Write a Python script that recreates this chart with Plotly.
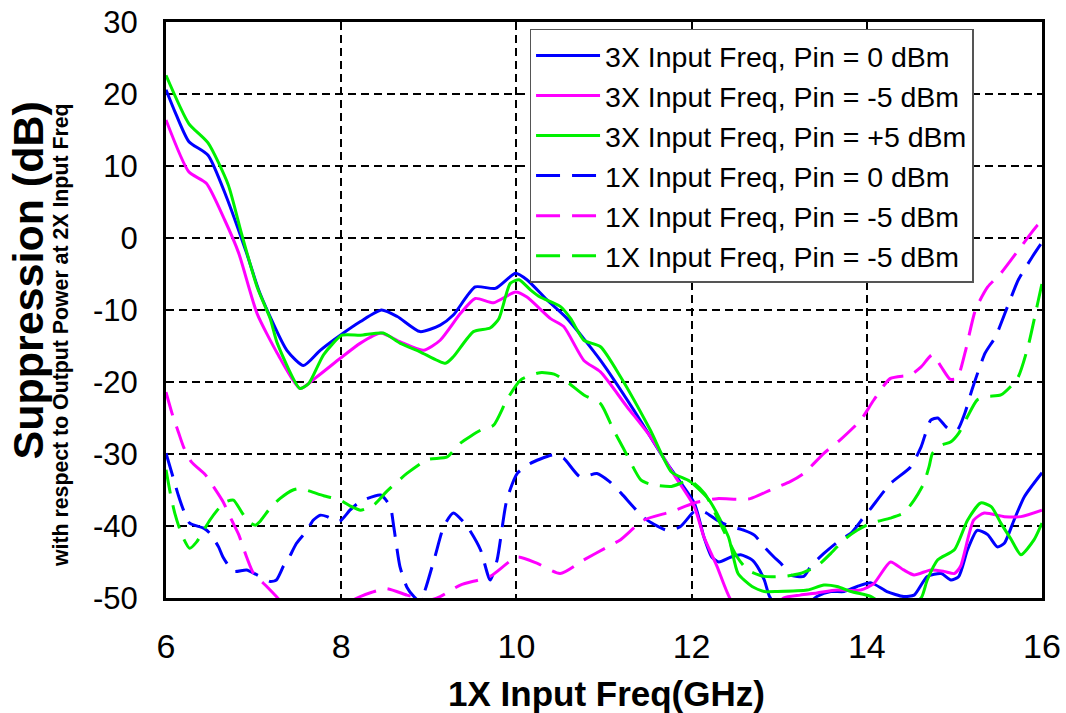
import plotly.graph_objects as go

# ---- data ----
b3_x = [6.0, 6.1, 6.26, 6.48, 6.69, 6.92, 7.07, 7.38, 7.57, 7.76, 7.99, 8.22, 8.46, 8.64, 8.9, 9.13, 9.28, 9.53, 9.76, 9.99, 10.12, 10.35, 10.58, 10.96, 11.34, 11.72, 12.03, 12.14, 12.23, 12.31, 12.45, 12.56, 12.69, 12.75, 12.83, 12.89, 13.0, 13.2, 13.43, 13.59, 13.74, 13.89, 14.05, 14.23, 14.42, 14.54, 14.69, 14.85, 14.96, 15.05, 15.15, 15.26, 15.38, 15.49, 15.57, 15.68, 15.8, 16.0]
b3_y = [20.6, 17.6, 13.4, 11.5, 5.7, -2.1, -7.6, -15.6, -17.7, -15.6, -13.5, -11.6, -10.0, -10.9, -13.0, -12.1, -10.7, -6.8, -7.0, -4.9, -5.8, -8.6, -11.2, -17.0, -23.9, -31.3, -36.8, -41.5, -44.3, -45.0, -44.3, -44.0, -44.7, -45.6, -47.5, -49.8, -51.5, -52.0, -49.8, -49.1, -49.1, -48.4, -47.9, -49.1, -49.8, -49.6, -47.0, -46.6, -47.5, -47.0, -43.3, -40.6, -41.2, -42.9, -42.4, -39.2, -35.9, -32.6]

m3_x = [6.0, 6.26, 6.46, 6.67, 6.83, 7.04, 7.27, 7.53, 7.72, 7.99, 8.22, 8.45, 8.67, 8.94, 9.13, 9.36, 9.53, 9.74, 9.99, 10.12, 10.39, 10.54, 10.77, 10.96, 11.26, 11.53, 11.8, 12.03, 12.14, 12.29, 12.45, 12.7, 12.9, 13.05, 13.24, 13.43, 13.66, 13.93, 14.08, 14.27, 14.42, 14.54, 14.73, 14.88, 15.0, 15.07, 15.22, 15.34, 15.57, 15.76, 16.0]
m3_y = [16.4, 9.2, 7.6, 2.5, -2.1, -10.5, -16.0, -20.9, -19.3, -16.7, -14.6, -13.2, -14.4, -15.6, -14.2, -10.5, -8.4, -9.0, -7.5, -8.2, -11.2, -12.3, -17.0, -18.6, -23.4, -27.6, -32.9, -37.3, -41.5, -45.6, -50.3, -53.0, -52.0, -50.0, -49.6, -49.3, -48.9, -48.9, -48.0, -45.0, -46.1, -46.8, -46.1, -46.3, -46.6, -45.6, -39.2, -38.2, -38.7, -38.7, -37.8]

g3_x = [6.0, 6.26, 6.48, 6.71, 6.86, 7.04, 7.19, 7.27, 7.53, 7.63, 7.8, 8.01, 8.22, 8.48, 8.67, 8.9, 9.19, 9.28, 9.51, 9.7, 9.8, 9.93, 10.03, 10.16, 10.27, 10.5, 10.62, 10.77, 10.96, 11.19, 11.53, 11.77, 11.98, 12.2, 12.42, 12.53, 12.69, 12.83, 12.98, 13.32, 13.51, 13.66, 13.82, 14.05, 14.2, 14.45, 14.62, 14.69, 14.81, 15.0, 15.15, 15.3, 15.42, 15.53, 15.65, 15.76, 15.91, 16.0]
g3_y = [22.6, 15.9, 13.2, 7.4, 0.7, -6.8, -11.2, -14.6, -20.9, -20.2, -16.2, -13.5, -13.5, -13.2, -14.6, -15.8, -17.4, -16.5, -13.0, -12.5, -11.2, -6.3, -5.8, -7.2, -8.2, -9.5, -11.2, -14.2, -15.1, -19.3, -26.7, -32.5, -33.8, -36.4, -41.5, -46.6, -48.4, -49.1, -49.1, -48.9, -48.2, -48.4, -49.1, -49.8, -51.0, -51.0, -50.0, -47.5, -44.7, -43.3, -39.2, -36.8, -37.3, -39.6, -41.9, -44.0, -41.9, -39.6]

b1_x = [6.0, 6.08, 6.14, 6.2, 6.27, 6.43, 6.5, 6.6, 6.65, 6.77, 6.92, 7.04, 7.19, 7.26, 7.34, 7.4, 7.49, 7.61, 7.68, 7.76, 7.84, 7.95, 8.0, 8.1, 8.22, 8.45, 8.56, 8.6, 8.67, 8.75, 8.83, 8.9, 9.06, 9.17, 9.28, 9.44, 9.59, 9.7, 9.78, 9.89, 10.01, 10.16, 10.43, 10.54, 10.73, 10.92, 11.06, 11.2, 11.46, 11.72, 11.87, 12.03, 12.14, 12.29, 12.45, 12.6, 12.72, 12.83, 12.94, 13.02, 13.13, 13.28, 13.36, 13.51, 13.7, 13.82, 13.97, 14.05, 14.27, 14.5, 14.62, 14.73, 14.81, 14.92, 15.03, 15.12, 15.2, 15.35, 15.47, 15.62, 15.73, 15.89, 16.0]
b1_y = [-29.9, -33.2, -35.7, -37.8, -39.6, -40.3, -41.0, -42.9, -44.3, -46.3, -46.1, -46.8, -47.7, -47.5, -45.6, -44.5, -42.4, -40.6, -39.2, -38.5, -38.7, -39.4, -39.2, -37.8, -36.6, -35.7, -37.3, -40.1, -45.6, -48.5, -49.8, -50.5, -44.7, -40.1, -38.2, -40.1, -43.3, -47.5, -44.7, -36.4, -32.7, -31.3, -30.1, -30.6, -33.2, -32.7, -33.8, -35.5, -38.9, -40.6, -40.1, -38.0, -38.0, -39.2, -40.1, -40.6, -41.3, -42.9, -44.3, -45.2, -46.8, -47.0, -45.6, -43.8, -41.9, -41.0, -38.7, -37.5, -34.1, -31.8, -29.0, -25.3, -25.0, -26.4, -26.7, -24.3, -21.1, -16.0, -13.7, -9.1, -5.8, -2.6, -0.6]

m1_x = [6.0, 6.08, 6.14, 6.2, 6.29, 6.45, 6.54, 6.65, 6.75, 6.83, 6.92, 7.0, 7.15, 7.26, 7.4, 7.8, 8.18, 8.35, 8.52, 8.75, 8.87, 9.0, 9.13, 9.36, 9.7, 10.01, 10.24, 10.5, 10.77, 11.04, 11.19, 11.45, 11.77, 12.03, 12.29, 12.52, 12.67, 12.9, 13.13, 13.28, 13.51, 13.7, 13.93, 14.08, 14.27, 14.5, 14.62, 14.75, 14.85, 14.95, 15.03, 15.12, 15.24, 15.38, 15.53, 15.76, 15.95, 16.0]
m1_y = [-21.4, -24.8, -26.9, -29.0, -31.1, -32.9, -34.5, -36.6, -39.2, -41.2, -44.3, -46.6, -48.4, -49.8, -51.5, -52.5, -50.0, -49.2, -48.7, -49.6, -50.0, -50.3, -49.8, -48.2, -47.0, -44.3, -45.2, -46.6, -44.7, -42.9, -41.9, -39.2, -38.0, -36.8, -36.2, -36.3, -36.2, -35.0, -33.8, -32.7, -29.9, -28.0, -25.3, -22.5, -19.5, -19.0, -17.9, -16.2, -17.9, -19.6, -19.5, -16.0, -10.0, -6.8, -4.9, -1.2, 1.8, 2.3]

g1_x = [6.0, 6.05, 6.1, 6.18, 6.27, 6.35, 6.43, 6.5, 6.62, 6.69, 6.77, 6.86, 6.94, 7.02, 7.07, 7.19, 7.3, 7.45, 7.53, 7.65, 7.8, 7.99, 8.1, 8.22, 8.37, 8.52, 8.75, 8.98, 9.21, 9.36, 9.59, 9.74, 9.89, 10.05, 10.27, 10.43, 10.58, 10.77, 10.96, 11.11, 11.23, 11.42, 11.53, 11.77, 11.98, 12.15, 12.3, 12.52, 12.64, 12.83, 13.05, 13.24, 13.43, 13.59, 13.74, 13.89, 14.05, 14.27, 14.42, 14.54, 14.65, 14.71, 14.75, 14.85, 14.96, 15.05, 15.15, 15.26, 15.38, 15.53, 15.72, 15.84, 15.95, 16.0]
g1_y = [-32.2, -35.5, -38.2, -41.2, -43.1, -42.2, -40.6, -39.2, -37.3, -36.6, -36.4, -38.0, -39.4, -39.9, -39.4, -37.5, -36.2, -35.0, -34.8, -35.2, -35.8, -36.4, -37.2, -37.8, -37.1, -35.2, -32.7, -30.8, -30.4, -28.5, -26.7, -26.0, -22.5, -19.7, -18.7, -18.9, -20.0, -21.8, -23.0, -26.7, -29.4, -33.6, -34.2, -34.5, -33.7, -35.5, -39.0, -44.3, -46.1, -47.0, -47.0, -46.6, -45.6, -43.8, -41.9, -40.6, -39.6, -38.9, -38.2, -36.4, -34.1, -31.8, -29.9, -28.8, -28.3, -27.1, -24.8, -22.5, -22.0, -21.8, -19.5, -15.1, -9.1, -6.3]

names = [
    "3X Input Freq, Pin = 0 dBm",
    "3X Input Freq, Pin = -5 dBm",
    "3X Input Freq, Pin = +5 dBm",
    "1X Input Freq, Pin = 0 dBm",
    "1X Input Freq, Pin = -5 dBm",
    "1X Input Freq, Pin = -5 dBm",
]
x_ticks = [6, 8, 10, 12, 14, 16]
y_ticks = [30, 20, 10, 0, -10, -20, -30, -40, -50]
x_title = "1X Input Freq(GHz)"
y_title = "Suppression (dB)"
y_subtitle = "with respect to Output Power at 2X Input Freq"

BLUE = "#0000ff"
MAG = "#ff00ff"
GRN = "#00f000"
DASH = "24px,12px"
FONT = "Liberation Sans, Arial, Helvetica, sans-serif"

series = [
    (b3_x, b3_y, BLUE, "solid"),
    (m3_x, m3_y, MAG, "solid"),
    (g3_x, g3_y, GRN, "solid"),
    (b1_x, b1_y, BLUE, DASH),
    (m1_x, m1_y, MAG, DASH),
    (g1_x, g1_y, GRN, DASH),
]

fig = go.Figure()
for (xs, ys, col, dash), nm in zip(series, names):
    fig.add_trace(go.Scatter(
        x=xs, y=ys, mode="lines", name=nm,
        line=dict(color=col, width=3, dash=dash, shape="spline", smoothing=0.6),
    ))

fig.update_layout(
    width=1066, height=713,
    margin=dict(l=166, r=24, t=22, b=115, autoexpand=False),
    paper_bgcolor="white", plot_bgcolor="white",
    font=dict(family=FONT, color="black"),
    showlegend=True,
    legend=dict(
        x=0.415, y=0.988, xanchor="left", yanchor="top",
        bgcolor="white", bordercolor="#555555", borderwidth=1.5,
        font=dict(family=FONT, size=28.5, color="black"),
        tracegroupgap=0, itemwidth=64,
    ),
    xaxis=dict(
        range=[6, 16], tickvals=x_ticks, ticktext=[str(v) for v in x_ticks],
        showgrid=True, gridcolor="black", gridwidth=2, griddash="8px,5px",
        showline=True, linecolor="black", linewidth=3, mirror=True,
        zeroline=False, ticks="", ticklabelstandoff=16, automargin=False,
        tickfont=dict(family=FONT, size=34, color="black"),
    ),
    yaxis=dict(
        range=[-50, 30], tickvals=y_ticks, ticktext=[str(v) for v in y_ticks],
        showgrid=True, gridcolor="black", gridwidth=2, griddash="8px,5px",
        showline=True, linecolor="black", linewidth=3, mirror=True,
        zeroline=False, ticks="", ticklabelstandoff=19, automargin=False,
        tickfont=dict(family=FONT, size=31, color="black"),
    ),
    annotations=[
        dict(text="<b>" + x_title + "</b>",
             xref="paper", yref="paper", x=0.503, y=-0.166,
             xanchor="center", yanchor="middle", showarrow=False,
             font=dict(family=FONT, size=35, color="black")),
        dict(text="<b>" + y_title + "</b>", textangle=-90,
             xref="paper", yref="paper", x=-0.157, y=0.552,
             xanchor="center", yanchor="middle", showarrow=False,
             font=dict(family=FONT, size=43, color="black")),
        dict(text="<b>" + y_subtitle + "</b>", textangle=-90,
             xref="paper", yref="paper", x=-0.119, y=0.456,
             xanchor="center", yanchor="middle", showarrow=False,
             font=dict(family=FONT, size=21.3, color="black")),
    ],
)

fig.write_html("out.html", config={"displayModeBar": False},
               post_script="document.body.style.margin='0px';")
